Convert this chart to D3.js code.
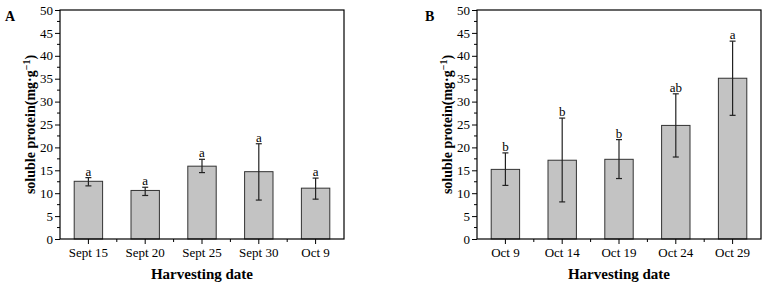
<!DOCTYPE html>
<html>
<head>
<meta charset="utf-8">
<script src="https://cdn.jsdelivr.net/npm/d3@7"></script>
<style>
  body { margin: 0; background: #fff; }
  svg { display: block; font-family: "Liberation Serif", "Times New Roman", serif; }
</style>
</head>
<body>
<svg id="chart" width="769" height="289"></svg>
<script>
// panel A data
var datesA = ['Sept 15', 'Sept 20', 'Sept 25', 'Sept 30', 'Oct 9']
var meanA = [12.6, 10.6, 15.9, 14.7, 11.1]
var lowA = [11.6, 9.5, 14.5, 8.5, 8.7]
var highA = [13.4, 11.3, 17.4, 20.8, 13.3]
var lettersA = ['a', 'a', 'a', 'a', 'a']

// panel B data
var datesB = ['Oct 9', 'Oct 14', 'Oct 19', 'Oct 24', 'Oct 29']
var meanB = [15.2, 17.2, 17.4, 24.8, 35.1]
var lowB = [11.7, 8.1, 13.2, 17.9, 27.0]
var highB = [18.8, 26.4, 21.7, 31.7, 43.2]
var lettersB = ['b', 'b', 'b', 'ab', 'a']

var yTicks = [0, 5, 10, 15, 20, 25, 30, 35, 40, 45, 50]

var svg = d3.select('#chart')

function panel(left, right, tag, dates, mean, low, high, letters) {
    var top = 10, bottom = 239
    var g = svg.append('g')

    var x = d3.scaleBand()
        .domain(dates)
        .range([left, right])
        .paddingInner(0.5)
        .paddingOuter(0.25)
    var y = d3.scaleLinear()
        .domain([0, 50])
        .range([bottom, top])

    // bars
    g.selectAll('rect.bar')
        .data(dates)
        .enter().append('rect')
        .attr('class', 'bar')
        .attr('x', function (d) { return x(d) })
        .attr('width', x.bandwidth())
        .attr('y', function (d, i) { return y(mean[i]) })
        .attr('height', function (d, i) { return y(0) - y(mean[i]) })
        .style('fill', '#c3c3c3')
        .style('stroke', '#333')
        .style('stroke-width', 1)

    // error bars
    var cx = function (d) { return x(d) + x.bandwidth() / 2 }
    var err = g.selectAll('g.err')
        .data(dates)
        .enter().append('g')
        .attr('class', 'err')
        .style('stroke', '#222')
        .style('stroke-width', 1.2)
    err.append('line')
        .attr('x1', cx).attr('x2', cx)
        .attr('y1', function (d, i) { return y(low[i]) })
        .attr('y2', function (d, i) { return y(high[i]) })
    err.append('line')
        .attr('x1', function (d) { return cx(d) - 3 })
        .attr('x2', function (d) { return cx(d) + 3 })
        .attr('y1', function (d, i) { return y(low[i]) })
        .attr('y2', function (d, i) { return y(low[i]) })
    err.append('line')
        .attr('x1', function (d) { return cx(d) - 3 })
        .attr('x2', function (d) { return cx(d) + 3 })
        .attr('y1', function (d, i) { return y(high[i]) })
        .attr('y2', function (d, i) { return y(high[i]) })

    // significance letters
    g.selectAll('text.sig')
        .data(dates)
        .enter().append('text')
        .attr('class', 'sig')
        .attr('x', cx)
        .attr('y', function (d, i) { return y(high[i]) - 2 })
        .attr('text-anchor', 'middle')
        .style('font-size', '13px')
        .text(function (d, i) { return letters[i] })

    // frame
    g.append('rect')
        .attr('x', left).attr('y', top)
        .attr('width', right - left).attr('height', bottom - top)
        .style('fill', 'none')
        .style('stroke', '#000')
        .style('stroke-width', 1.2)

    // y axis
    var yAxis = d3.axisLeft(y)
        .tickValues(yTicks)
        .tickSize(5)
        .tickPadding(2)
    var gy = g.append('g')
        .attr('transform', 'translate(' + left + ',0)')
        .call(yAxis)
    gy.select('.domain').remove()
    gy.selectAll('text')
        .style('font-family', 'Liberation Serif')
        .style('font-size', '13px')
        .attr('fill', '#000')
    var minorY = d3.range(2.5, 50, 5)
    g.selectAll('line.minory')
        .data(minorY)
        .enter().append('line')
        .attr('class', 'minory')
        .attr('x1', left - 3).attr('x2', left)
        .attr('y1', y).attr('y2', y)
        .style('stroke', '#000')

    // x axis
    var xAxis = d3.axisBottom(x)
        .tickSize(5)
        .tickPadding(4)
    var gx = g.append('g')
        .attr('transform', 'translate(0,' + bottom + ')')
        .call(xAxis)
    gx.select('.domain').remove()
    gx.selectAll('text')
        .style('font-family', 'Liberation Serif')
        .style('font-size', '13px')
        .attr('fill', '#000')
    var step = x.step()
    var minorX = dates.slice(1).map(function (d) { return cx(d) - step / 2 })
    g.selectAll('line.minorx')
        .data(minorX)
        .enter().append('line')
        .attr('class', 'minorx')
        .attr('x1', function (d) { return d }).attr('x2', function (d) { return d })
        .attr('y1', bottom).attr('y2', bottom + 3)
        .style('stroke', '#000')

    // titles
    g.append('text')
        .attr('x', (left + right) / 2)
        .attr('y', 279)
        .attr('text-anchor', 'middle')
        .style('font-size', '15px')
        .style('font-weight', 'bold')
        .text('Harvesting date')

    var yt = g.append('text')
        .attr('transform', 'translate(' + (left - 25) + ',' + ((top + bottom) / 2) + ') rotate(-90)')
        .attr('text-anchor', 'middle')
        .style('font-size', '14px')
        .style('font-weight', 'bold')
    yt.append('tspan').text('soluble protein(mg·g')
    yt.append('tspan').attr('dy', -5).style('font-size', '10px').text('−1')
    yt.append('tspan').attr('dy', 5).text(')')

    g.append('text')
        .attr('x', left - (tag === 'A' ? 55 : 52))
        .attr('y', 21)
        .style('font-size', '14px')
        .style('font-weight', 'bold')
        .text(tag)
}

panel(60, 344, 'A', datesA, meanA, lowA, highA, lettersA)
panel(477, 761, 'B', datesB, meanB, lowB, highB, lettersB)
</script>
</body>
</html>
